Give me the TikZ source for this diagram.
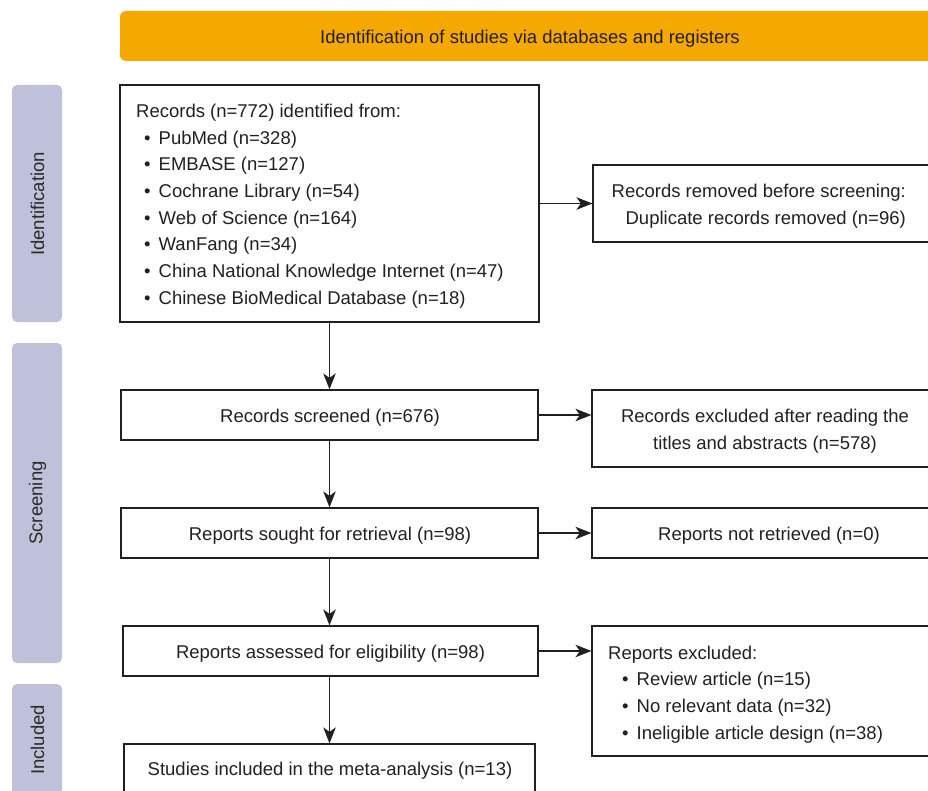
\documentclass[tikz,border=0pt]{standalone}
\usepackage{fontspec}
\setmainfont{Liberation Sans}
\usetikzlibrary{arrows.meta}
\definecolor{bannercol}{HTML}{F5A800}
\definecolor{sidecol}{HTML}{BFC0DA}
\definecolor{ink}{HTML}{231F20}
\definecolor{sideink}{HTML}{2A2A2A}
\begin{document}
\begin{tikzpicture}[x=1pt,y=-1pt,
  box/.style={draw=ink, line width=1.2pt, rectangle, inner sep=0pt},
  lbl/.style={text=ink, font=\fontsize{18.5}{26.7}\selectfont, inner sep=0pt, yshift=-2.5pt},
  sidebar/.style={fill=sidecol, rounded corners=5pt, inner sep=0pt},
  sidetext/.style={rotate=90, font=\fontsize{18.5}{20}\selectfont, text=sideink, inner sep=0pt},
  arr/.style={draw=ink, line width=1.2pt, -{Stealth[length=16pt,width=12.5pt,inset=4.5pt]}}]
\useasboundingbox (0,0) rectangle (928,791);
\clip (0,0) rectangle (928,791);

% banner
\node[fill=bannercol, rounded corners=6pt, minimum width=820pt, minimum height=50pt,
  inner sep=0pt] (banner) at (530,36) {};
\node[lbl, yshift=-0.5pt] (bannertext) at (530,36)
  {Identification of studies via databases and registers};

% side bars
\node[sidebar, minimum width=50pt, minimum height=237pt] (sideI) at (37,203.5) {};
\node[sidetext] (sideItext) at (37.5,204) {Identification};
\node[sidebar, minimum width=50pt, minimum height=320pt] (sideS) at (37,503) {};
\node[sidetext] (sideStext) at (37.5,503) {Screening};
\node[sidebar, minimum width=50pt, minimum height=140pt] (sideN) at (37,754) {};
\node[sidetext] (sideNtext) at (37.5,740) {Included};

% left column
\node[box, minimum width=419pt, minimum height=237pt] (rec) at (329.5,203.5) {};
\node[lbl, anchor=west, align=left] (rectext) at (136,203.5)
 {Records (n=772) identified from:\\
  \hspace*{8pt}•\hspace{8pt}PubMed (n=328)\\
  \hspace*{8pt}•\hspace{8pt}EMBASE (n=127)\\
  \hspace*{8pt}•\hspace{8pt}Cochrane Library (n=54)\\
  \hspace*{8pt}•\hspace{8pt}Web of Science (n=164)\\
  \hspace*{8pt}•\hspace{8pt}WanFang (n=34)\\
  \hspace*{8pt}•\hspace{8pt}China National Knowledge Internet (n=47)\\
  \hspace*{8pt}•\hspace{8pt}Chinese BioMedical Database (n=18)};

\node[box, minimum width=417pt, minimum height=50pt] (scr) at (329.5,415) {};
\node[lbl] (scrtext) at (330,415) {Records screened (n=676)};
\node[box, minimum width=417pt, minimum height=50pt] (sought) at (329.5,533) {};
\node[lbl] (soughttext) at (330,533) {Reports sought for retrieval (n=98)};
\node[box, minimum width=415pt, minimum height=50pt] (assess) at (330.5,651) {};
\node[lbl] (assesstext) at (330.5,651) {Reports assessed for eligibility (n=98)};
\node[box, minimum width=411pt, minimum height=62pt] (incl) at (329.5,775) {};
\node[lbl] (incltext) at (330,768) {Studies included in the meta-analysis (n=13)};

% right column
\node[box, minimum width=347pt, minimum height=77pt] (removed) at (766.5,203.5) {};
\node[lbl, anchor=east, align=right] (removedtext) at (906,203.5)
 {Records removed before screening:\\Duplicate records removed (n=96)};
\node[box, minimum width=348pt, minimum height=77pt] (excl) at (766,428.5) {};
\node[lbl, align=center] (excltext) at (765,428.5)
 {Records excluded after reading the\\titles and abstracts (n=578)};
\node[box, minimum width=348pt, minimum height=50pt] (notret) at (766,533) {};
\node[lbl] (notrettext) at (769,533) {Reports not retrieved (n=0)};
\node[box, minimum width=348pt, minimum height=130pt] (repexcl) at (766,691) {};
\node[lbl, anchor=west, align=left] (repexcltext) at (608,692)
 {Reports excluded:\\
  \hspace*{14pt}•\hspace{8pt}Review article (n=15)\\
  \hspace*{14pt}•\hspace{8pt}No relevant data (n=32)\\
  \hspace*{14pt}•\hspace{8pt}Ineligible article design (n=38)};

% connectors
\draw[arr] (rec.south) -- (rec.south |- scr.north);
\draw[arr] (scr.south) -- (scr.south |- sought.north);
\draw[arr] (sought.south) -- (sought.south |- assess.north);
\draw[arr] (sought.south |- assess.south) -- (sought.south |- incl.north);
\draw[arr] (rec.east |- removed.west) -- (removed.west);
\draw[arr] (scr.east) -- (scr.east -| excl.west);
\draw[arr] (sought.east) -- (sought.east -| notret.west);
\draw[arr] (assess.east) -- (assess.east -| repexcl.west);
\end{tikzpicture}
\end{document}
